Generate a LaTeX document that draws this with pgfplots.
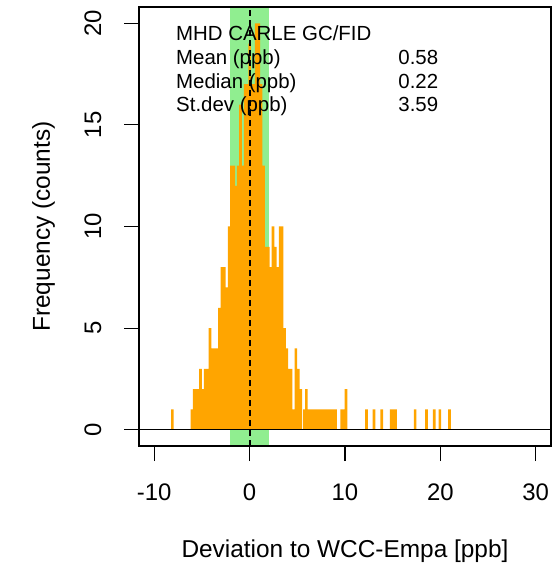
\documentclass[border=0pt]{standalone}
\usepackage{pgfplots}
\pgfplotsset{compat=1.18}
\usepackage{fontspec}
\setmainfont{Liberation Sans}
\definecolor{rorange}{HTML}{FFA500}
\definecolor{rgreen}{HTML}{90EE90}
\pgfplotstableread{
x h
-8.1 1
-6.05 1
-5.8 2
-5.55 2
-5.35 2
-5.15 3
-4.9 2
-4.65 3
-4.4 3
-4.15 5
-3.9 4
-3.62 4
-3.38 4
-3.15 6
-2.9 8
-2.65 8
-2.4 7
-2.15 10
-1.9 13
-1.65 13
-1.45 12
-1.2 13
-0.95 16
-0.7 13
-0.45 17
-0.2 17
0.0 19
0.25 17
0.45 17
0.7 20
0.95 20
1.2 17
1.45 13
1.7 9
1.95 9
2.2 8
2.45 10
2.7 9
2.95 8
3.2 10
3.4 10
3.65 5
3.9 4
4.15 3
4.35 3
4.6 1
4.85 4
5.1 3
5.35 2
5.75 1
5.95 2
6.25 1
6.5 1
6.75 1
7.0 1
7.25 1
7.5 1
7.75 1
8.0 1
8.25 1
8.5 1
8.75 1
9.0 1
9.65 1
9.9 1
10.1 2
12.25 1
13.05 1
13.85 1
14.85 1
15.1 1
15.3 1
17.35 1
18.55 1
19.35 1
19.95 1
20.95 1
}\devdata
\begin{document}
\begin{tikzpicture}
\useasboundingbox (0,0) rectangle (560bp,567bp);
\begin{axis}[
  at={(139bp,121bp)}, anchor=south west,
  width=412bp, height=439bp, scale only axis,
  xmin=-11.6, xmax=31.6, ymin=-0.8, ymax=20.8,
  xtick={-10,0,10,20,30}, xticklabels={-10,0,10,20,30},
  ytick={0,5,10,15,20}, yticklabels={0,5,10,15,20},
  xtick pos=left, ytick pos=left,
  tick align=outside, major tick length=15bp,
  tick style={black, line width=1.1bp},
  axis line style={black, line width=1.1bp},
  axis on top,
  xticklabel style={font=\fontsize{24}{28}\selectfont, anchor=base, inner sep=0pt, yshift=-39bp},
  yticklabel style={font=\fontsize{24}{28}\selectfont, rotate=90, anchor=base, inner sep=0pt, yshift=23bp},
  xlabel={Deviation to WCC-Empa [ppb]},
  ylabel={Frequency (counts)},
  xlabel style={font=\fontsize{24.5}{29}\selectfont, at={(axis description cs:0.5,0)}, anchor=base, inner sep=0pt, yshift=-111bp},
  ylabel style={font=\fontsize{24.5}{29}\selectfont, at={(axis description cs:0,0.5)}, anchor=base, inner sep=0pt, yshift=89bp},
]
\fill[rgreen] (axis cs:-2.05,-0.8) rectangle (axis cs:2.05,20.8);
\addplot[ybar, bar width=2.7bp, bar shift=0pt, fill=rorange, draw=none] table[x=x, y=h] {\devdata};
\draw[black, line width=1.8bp, dash pattern=on 6bp off 4bp] (axis cs:0,-0.8) -- (axis cs:0,20.8);
\draw[black, line width=1.3bp] (axis cs:-11.6,0) -- (axis cs:31.6,0);
\node[anchor=base west, inner sep=0pt, font=\fontsize{20.5}{24}\selectfont] at (axis cs:-7.72,19.16) {MHD CARLE GC/FID};
\node[anchor=base west, inner sep=0pt, font=\fontsize{20.5}{24}\selectfont] at (axis cs:-7.72,17.96) {Mean (ppb)};
\node[anchor=base west, inner sep=0pt, font=\fontsize{20.5}{24}\selectfont] at (axis cs:-7.72,16.77) {Median (ppb)};
\node[anchor=base west, inner sep=0pt, font=\fontsize{20.5}{24}\selectfont] at (axis cs:-7.72,15.64) {St.dev (ppb)};
\node[anchor=base west, inner sep=0pt, font=\fontsize{20.5}{24}\selectfont] at (axis cs:15.58,17.96) {0.58};
\node[anchor=base west, inner sep=0pt, font=\fontsize{20.5}{24}\selectfont] at (axis cs:15.58,16.77) {0.22};
\node[anchor=base west, inner sep=0pt, font=\fontsize{20.5}{24}\selectfont] at (axis cs:15.58,15.64) {3.59};
\end{axis}
\end{tikzpicture}
\end{document}
